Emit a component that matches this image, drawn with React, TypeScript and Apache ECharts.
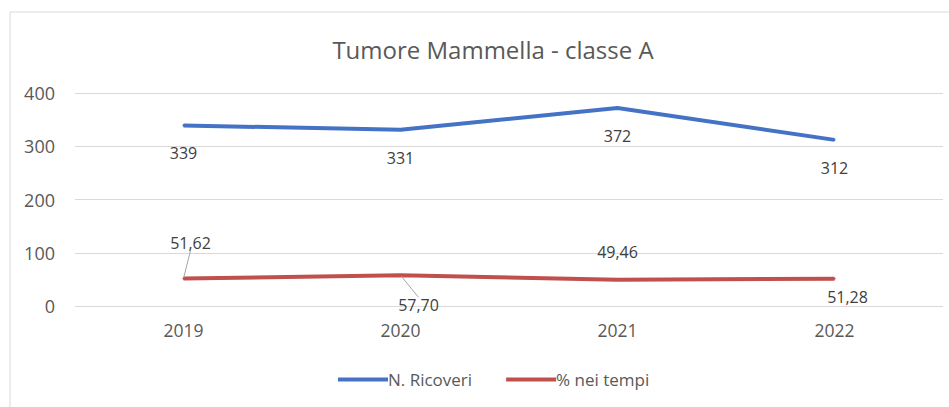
import React, { useEffect, useRef } from "react";
import * as echarts from "echarts";

const years = ["2019", "2020", "2021", "2022"];
const ricoveri = [339, 331, 372, 312];
const neiTempi = [51.62, 57.7, 49.46, 51.28];
const yTicks = { min: 0, max: 400, interval: 100 };

const FONT = "'Open Sans', 'Liberation Sans', sans-serif";
const TXT = "#595959";

export default function App() {
  const ref = useRef<HTMLDivElement>(null);
  useEffect(() => {
    const chart = echarts.init(ref.current!, null, { renderer: "svg" });
    const fmt = (v: number) => v.toFixed(2).replace(".", ",");
    const redMoves = [
      { dx: 7, dy: -22, line: true },
      { dx: 18, dy: 44, line: true },
      { dx: 0, dy: -14, line: false },
      { dx: 13, dy: 32, line: false },
    ];
    chart.setOption({
      animation: false,
      backgroundColor: "#ffffff",
      title: {
        text: "Tumore Mammella - classe A",
        left: 488,
        textAlign: "center",
        top: 32,
        textStyle: { fontFamily: FONT, fontSize: 24, fontWeight: "normal", color: TXT },
      },
      graphic: [
        {
          type: "rect",
          shape: { x: 10, y: 12, width: 960, height: 420 },
          style: { fill: "none", stroke: "#d9d9d9", lineWidth: 1 },
          silent: true,
        },
      ],
      legend: {
        top: 366,
        left: 333,
        itemWidth: 50,
        itemHeight: 4,
        itemGap: 34,
        icon: "rect",
        textStyle: { fontFamily: FONT, fontSize: 17, color: TXT, padding: [0, 0, 0, -5] },
        data: ["N. Ricoveri", "% nei tempi"],
      },
      grid: { left: 75, right: 6, top: 93, bottom: 101, containLabel: false },
      xAxis: {
        type: "category",
        data: years,
        boundaryGap: true,
        axisLine: { show: false },
        axisTick: { show: false },
        axisLabel: { fontFamily: FONT, fontSize: 17.5, color: TXT, margin: 15 },
      },
      yAxis: {
        type: "value",
        min: yTicks.min,
        max: yTicks.max,
        interval: yTicks.interval,
        axisLabel: { fontFamily: FONT, fontSize: 18, color: TXT, margin: 20 },
        splitLine: { lineStyle: { color: "#d9d9d9" } },
        axisLine: { show: false },
      },
      series: [
        {
          name: "N. Ricoveri",
          type: "line",
          data: ricoveri,
          symbol: "circle",
          symbolSize: 2,
          showSymbol: true,
          color: "#4472C4",
          lineStyle: { width: 4, color: "#4472C4" },
          label: {
            show: true,
            position: "bottom",
            distance: 19,
            fontFamily: FONT,
            fontSize: 16,
            color: "#404040",
          },
        },
        {
          name: "% nei tempi",
          type: "line",
          data: neiTempi.map((v, i) => ({
            value: v,
            labelLine: { show: redMoves[i].line },
          })),
          symbol: "circle",
          symbolSize: 2,
          showSymbol: true,
          color: "#C0504D",
          lineStyle: { width: 4, color: "#C0504D" },
          label: {
            show: true,
            position: "top",
            distance: 5,
            fontFamily: FONT,
            fontSize: 16,
            color: "#404040",
            formatter: (p: any) => fmt(p.value),
          },
          labelLine: { show: false, lineStyle: { color: "#a6a6a6", width: 1 } },
          labelLayout: (p: any) => ({ dx: redMoves[p.dataIndex].dx, dy: redMoves[p.dataIndex].dy }),
        },
      ],
    });
    return () => chart.dispose();
  }, []);
  return (
    <div
      ref={ref}
      style={{ position: "fixed", left: 0, top: 0, width: 949, height: 407 }}
    />
  );
}
